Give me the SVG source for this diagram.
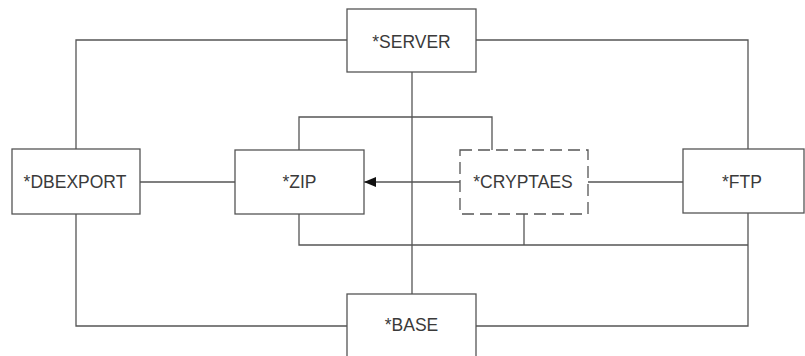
<svg xmlns="http://www.w3.org/2000/svg" width="805" height="356" viewBox="0 0 805 356">
<defs>
<style>
.box{fill:#fff;stroke:#555;stroke-width:1.3}
.dash{fill:#fff;stroke:#555;stroke-width:1.3;stroke-dasharray:12 6}
.ln{fill:none;stroke:#555;stroke-width:1.3}
.t{font-family:"Liberation Sans",Arial,sans-serif;font-size:17.5px;fill:#3a3a3a;text-anchor:middle}
</style>
<marker id="arr" viewBox="0 0 12 10" refX="12" refY="5" markerWidth="12" markerHeight="10" markerUnits="userSpaceOnUse" orient="auto">
<path d="M0,0 L12,5 L0,10 Z" fill="#111"/>
</marker>
</defs>
<rect width="805" height="356" fill="#fff"/>
<g id="connectors">
<path class="ln" d="M76,149 V40 H347"/>
<path class="ln" d="M476,40 H748 V149"/>
<path class="ln" d="M76,214 V326 H347"/>
<path class="ln" d="M476,326 H748 V213"/>
<path class="ln" d="M140,182 H235"/>
<path class="ln" d="M588,182 H683"/>
<path class="ln" d="M412,72 V294"/>
<path class="ln" d="M299,150 V117 H492 V150"/>
<path class="ln" d="M299,214 V245 H748"/>
<path class="ln" d="M524,214 V245"/>
<path class="ln" d="M460,182 H364" marker-end="url(#arr)"/>
</g>
<g id="server"><rect class="box" x="347" y="9" width="129" height="63"/><text class="t" x="411.5" y="48">*SERVER</text></g>
<g id="dbexport"><rect class="box" x="12" y="149" width="128" height="65"/><text class="t" x="75" y="188">*DBEXPORT</text></g>
<g id="zip"><rect class="box" x="235" y="150" width="129" height="64"/><text class="t" x="299.5" y="188">*ZIP</text></g>
<g id="cryptaes"><rect class="dash" x="460" y="150" width="128" height="64"/><text class="t" x="523" y="188">*CRYPTAES</text></g>
<g id="ftp"><rect class="box" x="683" y="149" width="121" height="64"/><text class="t" x="742" y="188">*FTP</text></g>
<g id="base"><rect class="box" x="347" y="294" width="129" height="70"/><text class="t" x="411.5" y="331">*BASE</text></g>
</svg>
